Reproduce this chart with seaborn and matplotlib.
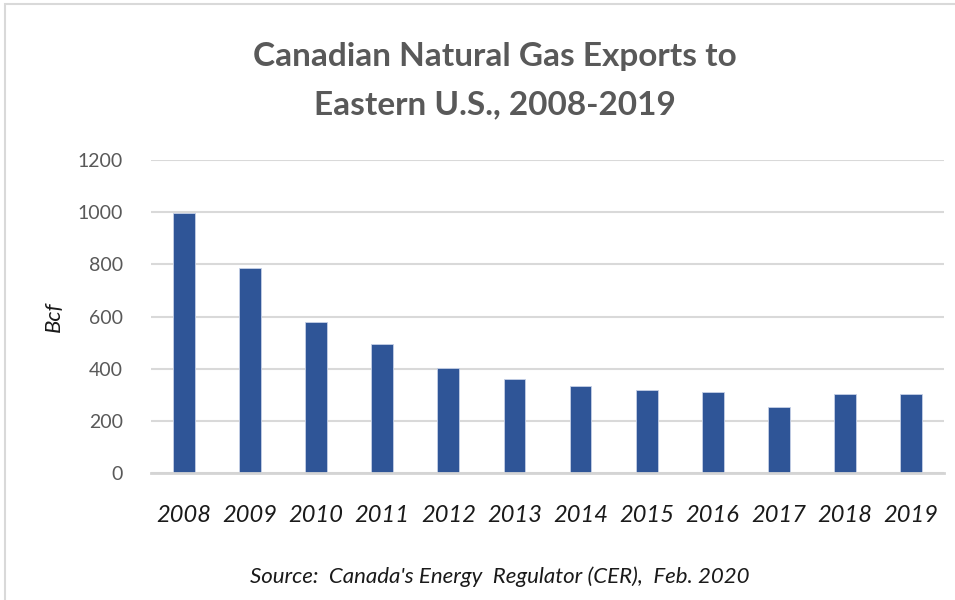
import matplotlib
matplotlib.use('Agg')
import matplotlib.pyplot as plt
import seaborn as sns
import pandas as pd
from matplotlib.patches import Rectangle

years = ["2008", "2009", "2010", "2011", "2012", "2013",
         "2014", "2015", "2016", "2017", "2018", "2019"]
exports_bcf = [995, 787, 578, 495, 403, 359, 335, 319, 309, 252, 302, 302]
y_ticks = [0, 200, 400, 600, 800, 1000, 1200]

title = "Canadian Natural Gas Exports to\nEastern U.S., 2008-2019"
source = "Source:  Canada's Energy  Regulator (CER),  Feb. 2020"

df = pd.DataFrame({"year": years, "bcf": exports_bcf})

sns.set_theme(style="white")
plt.rcParams['font.family'] = ['Lato', 'DejaVu Sans']

fig = plt.figure(figsize=(9.55, 6), dpi=100)
ax = fig.add_axes([0.158, 0.2117, 0.8305, 0.5216])

sns.barplot(data=df, x="year", y="bcf", color="#2F5597", width=0.33,
            saturation=1, edgecolor="#c5d0e6", linewidth=0.6, ax=ax, zorder=3)

ax.set_ylim(0, 1200)
ax.set_yticks(y_ticks)
ax.set_xlim(-0.5, len(years) - 0.5)
ax.yaxis.grid(True, color="#d9d9d9", linewidth=1.5, zorder=0)
ax.xaxis.grid(False)
for side in ["top", "right", "left"]:
    ax.spines[side].set_visible(False)
ax.spines["bottom"].set_color("#d4d4d4")
ax.spines["bottom"].set_linewidth(2)
ax.spines["bottom"].set_zorder(4)

ax.tick_params(axis="y", length=0, pad=20, labelsize=14, labelcolor="#595959")
ax.tick_params(axis="x", length=0, pad=23, labelsize=17, labelcolor="#1a1a1a")
for lbl in ax.get_xticklabels():
    lbl.set_fontstyle("italic")

ax.set_xlabel("")
ax.set_ylabel("Bcf", fontsize=16, fontstyle="italic", color="#1a1a1a", labelpad=10)

fig.text(0.518, 0.866, title, ha="center", va="center", fontsize=24,
         fontweight="bold", color="#595959", linespacing=1.8)
fig.text(0.523, 0.038, source, ha="center", va="center", fontsize=16,
         fontstyle="italic", color="#1a1a1a")

fig.patches.append(Rectangle((5 / 955, -0.1), 1.2, 1 - 4 / 600 + 0.1,
                             transform=fig.transFigure, fill=False,
                             edgecolor="#d9d9d9", linewidth=1.5))

plt.savefig("out.png", dpi=100)
plt.close()
